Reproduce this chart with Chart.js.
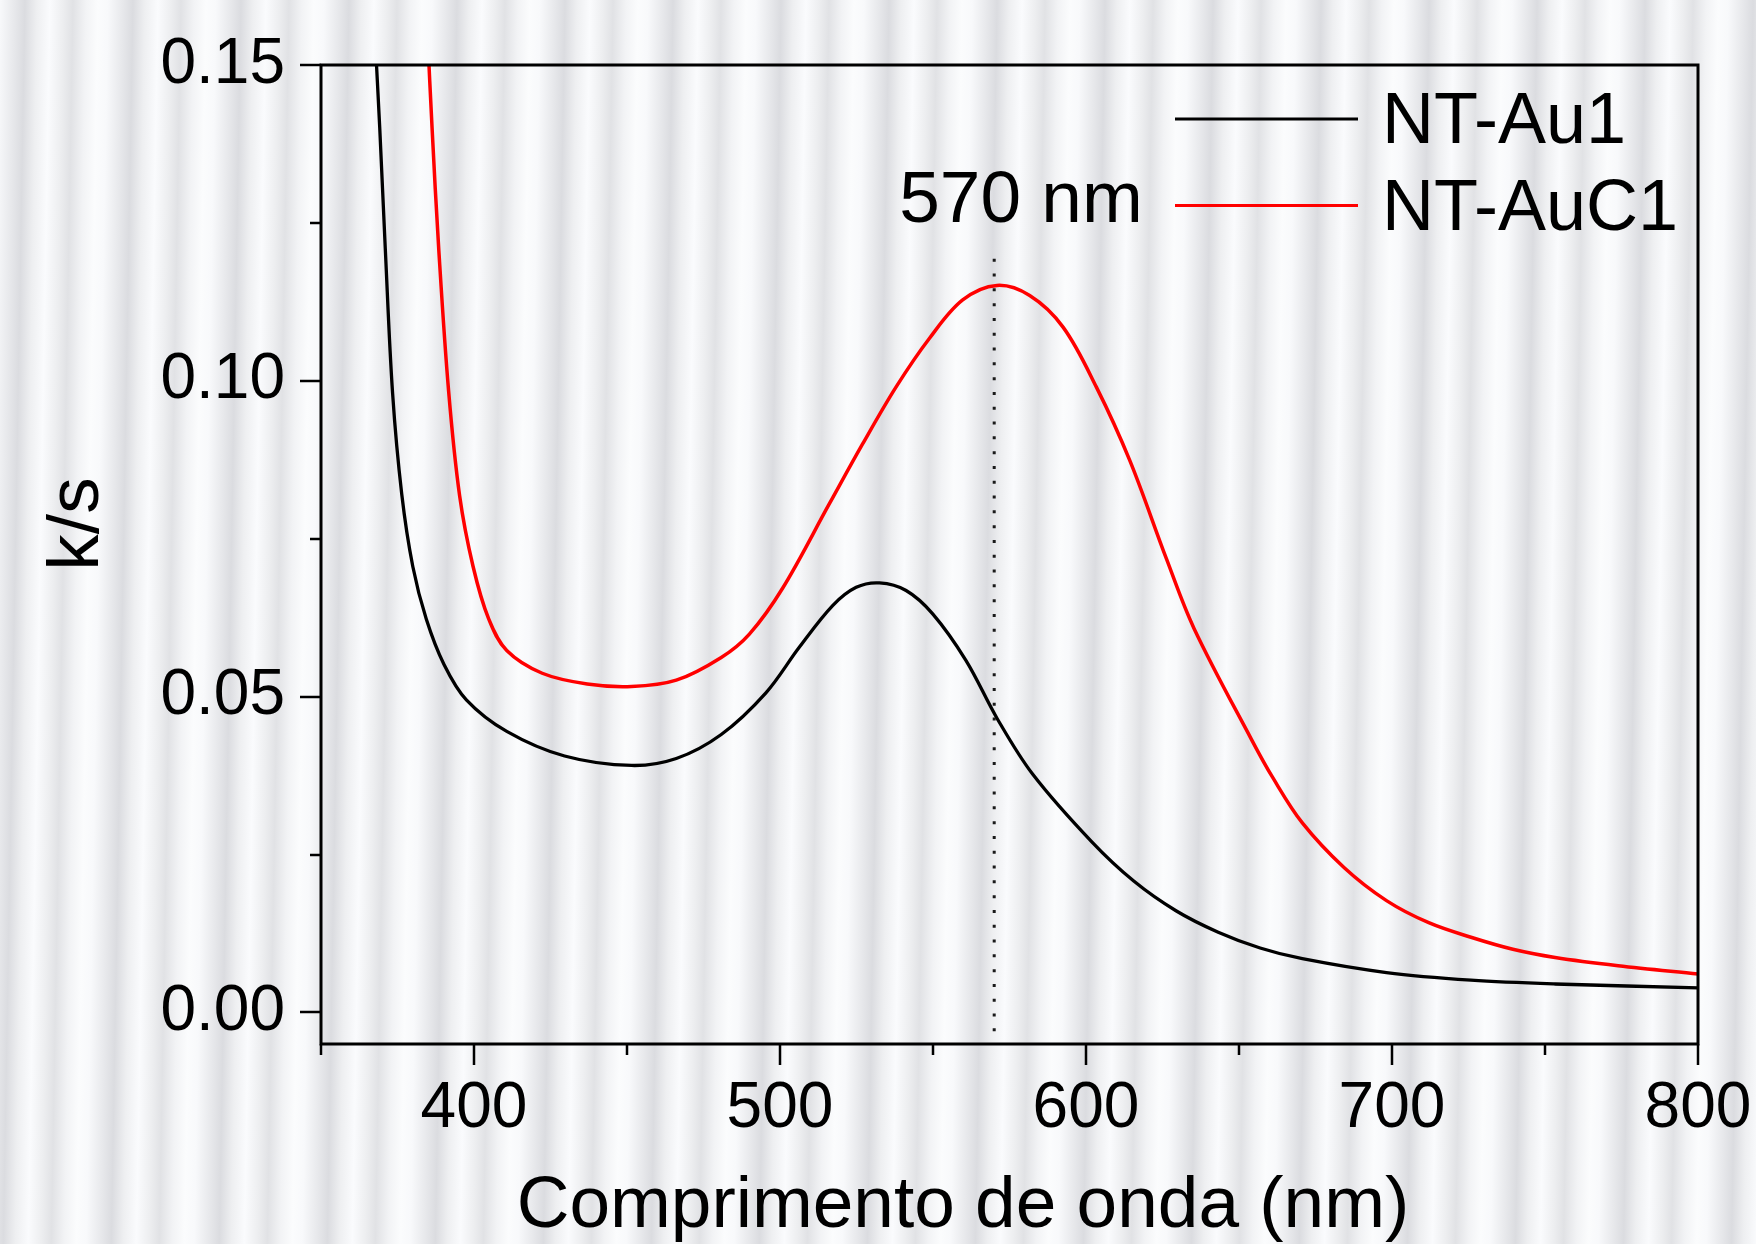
<!DOCTYPE html>
<html lang="pt">
<head>
<meta charset="utf-8">
<title>k/s x comprimento de onda</title>
<script src="https://cdn.jsdelivr.net/npm/chart.js@4.4.1/dist/chart.umd.min.js"></script>
<style>
    html, body { margin: 0; padding: 0; }
    body {
        width: 1756px;
        height: 1244px;
        overflow: hidden;
        background: repeating-linear-gradient(91deg,
            #f8f9fb 0px, #e8e9ec 14px, #dbdce0 25px, #eeeff1 37px,
            #fafbfd 50px, #edeef0 63px, #e1e2e5 73px, #f2f3f5 86px,
            #fbfcfd 98px, #f8f9fb 108px);
    }
    .wrap { position: relative; width: 1756px; height: 1244px; }
</style>
</head>
<body>
<div class="wrap"><canvas id="chart-ks"></canvas></div>
<script>
// NT-Au1 (preto)
const au1Wavelength = [367.6, 369.2, 371.0, 373.4, 376.4, 380.0, 384.4, 390.2, 397.5, 410.7,
    429.6, 451.5, 466.1, 480.8, 495.4, 506.3, 517.2, 524.9, 532.5, 541.2,
    549.9, 560.8, 571.0, 582.6, 601.9, 615.6, 629.4, 643.2, 656.9, 670.7,
    698.2, 725.8, 753.3, 800.0];
const au1Values = [0.155, 0.140, 0.121, 0.098, 0.082, 0.0706, 0.0623, 0.0551, 0.0495, 0.0445,
    0.0406, 0.0391, 0.0402, 0.0440, 0.0506, 0.0578, 0.0644, 0.0673, 0.0680, 0.0668,
    0.0631, 0.0557, 0.0465, 0.0377, 0.0270, 0.0208, 0.0161, 0.0127, 0.0102, 0.0085,
    0.0063, 0.0051, 0.0045, 0.0039];

// NT-AuC1 (vermelho)
const auc1Wavelength = [384.8, 386.3, 388.5, 391.7, 395.3, 399.7, 404.8, 410.7, 422.3, 437.0,
    451.5, 466.1, 480.8, 490.0, 500.9, 516.1, 527.0, 537.9, 548.8, 559.7,
    570.9, 581.6, 592.5, 603.4, 614.3, 626.3, 635.3, 654.1, 661.0, 670.7,
    684.4, 698.2, 712.0, 725.8, 739.5, 753.3, 773.9, 800.0];
const auc1Values = [0.155, 0.140, 0.1207, 0.0984, 0.0818, 0.0706, 0.0623, 0.0573, 0.0537, 0.0520,
    0.0516, 0.0526, 0.0562, 0.0599, 0.0672, 0.0805, 0.0900, 0.0990, 0.1067, 0.1128,
    0.1151, 0.1135, 0.1085, 0.0990, 0.0874, 0.0718, 0.0608, 0.0432, 0.0372, 0.0300,
    0.0229, 0.0177, 0.0142, 0.0119, 0.0100, 0.0087, 0.0074, 0.0061];

const seriesLabels = ['NT-Au1', 'NT-AuC1'];
const peakWavelength = 570;
const peakRange = [-0.003, 0.1207];
const peakLabel = '570 nm';

const xTicks = [400, 500, 600, 700, 800];
const yTicks = [0.00, 0.05, 0.10, 0.15];
const xRange = [350, 800];
const yRange = [-0.005, 0.15];

const FONT = '"Liberation Sans", Arial, Helvetica, sans-serif';

const toPoints = (xs, ys) => xs.map((x, i) => ({ x, y: ys[i] }));

// moldura + ticks maiores/menores para fora
const frameTicks = {
    id: 'frameTicks',
    afterDatasetsDraw(chart) {
        const { ctx, chartArea: a, scales: { x, y } } = chart;
        ctx.save();
        ctx.strokeStyle = '#000';
        ctx.lineWidth = 3;
        ctx.strokeRect(a.left, a.top, a.right - a.left, a.bottom - a.top);
        ctx.lineWidth = 2.5;
        ctx.beginPath();
        for (let v = xRange[0]; v <= xRange[1]; v += 50) {
            const px = Math.round(x.getPixelForValue(v));
            const len = v % 100 === 0 ? 21 : 11;
            ctx.moveTo(px, a.bottom);
            ctx.lineTo(px, a.bottom + len);
        }
        for (let i = 0; i <= 6; i++) {
            const py = Math.round(y.getPixelForValue(i * 0.025));
            const len = i % 2 === 0 ? 21 : 11;
            ctx.moveTo(a.left, py);
            ctx.lineTo(a.left - len, py);
        }
        ctx.stroke();
        ctx.restore();
    }
};

// títulos dos eixos, legenda e rótulo do pico
const labelsPlugin = {
    id: 'labelsPlugin',
    afterDraw(chart) {
        const { ctx, scales: { x } } = chart;
        ctx.save();
        ctx.fillStyle = '#000';
        ctx.textBaseline = 'alphabetic';

        ctx.font = '73px ' + FONT;
        ctx.textAlign = 'center';
        ctx.fillText('Comprimento de onda (nm)', 963, 1227);

        ctx.save();
        ctx.translate(98, 524);
        ctx.rotate(-Math.PI / 2);
        ctx.fillText('k/s', 0, 0);
        ctx.restore();

        // legenda
        ctx.font = '72px ' + FONT;
        ctx.textAlign = 'left';
        chart.data.datasets.filter(d => d.label).forEach((d, i) => {
            const ly = 119 + i * 86.5;
            ctx.strokeStyle = d.borderColor;
            ctx.lineWidth = 3.2;
            ctx.beginPath();
            ctx.moveTo(1175, ly);
            ctx.lineTo(1358, ly);
            ctx.stroke();
            ctx.fillText(d.label, 1382, ly + 24);
        });

        // 570 nm
        ctx.font = '73px ' + FONT;
        ctx.fillText(peakLabel, x.getPixelForValue(peakWavelength) - 95, 222);
        ctx.restore();
    }
};

const noScalePad = s => {
    s.paddingTop = 0; s.paddingBottom = 0; s.paddingLeft = 0; s.paddingRight = 0;
};

new Chart(document.getElementById('chart-ks'), {
    type: 'line',
    data: {
        datasets: [
            {
                label: seriesLabels[0],
                data: toPoints(au1Wavelength, au1Values),
                borderColor: '#000000',
                borderWidth: 3.3,
                pointRadius: 0,
                tension: 0.35
            },
            {
                label: seriesLabels[1],
                data: toPoints(auc1Wavelength, auc1Values),
                borderColor: '#ff0000',
                borderWidth: 3.5,
                pointRadius: 0,
                tension: 0.35
            },
            {
                label: '',
                data: [{ x: peakWavelength, y: peakRange[0] }, { x: peakWavelength, y: peakRange[1] }],
                borderColor: '#1a1a1a',
                borderWidth: 3,
                borderDash: [3, 11.8],
                pointRadius: 0
            }
        ]
    },
    options: {
        responsive: true,
        maintainAspectRatio: false,
        animation: false,
        layout: { padding: { top: 65, right: 58, bottom: 0, left: 0 } },
        plugins: {
            legend: { display: false },
            tooltip: { enabled: false }
        },
        scales: {
            x: {
                type: 'linear',
                min: xRange[0],
                max: xRange[1],
                afterBuildTicks: s => { s.ticks = xTicks.map(v => ({ value: v })); },
                afterFit: s => { s.height = 200; noScalePad(s); },
                grid: { display: false, drawTicks: false },
                border: { display: false },
                ticks: {
                    color: '#000',
                    padding: 27,
                    maxRotation: 0,
                    autoSkip: false,
                    font: { family: FONT, size: 64 }
                }
            },
            y: {
                min: yRange[0],
                max: yRange[1],
                afterBuildTicks: s => { s.ticks = yTicks.map(v => ({ value: v })); },
                afterFit: s => { s.width = 321; noScalePad(s); },
                grid: { display: false, drawTicks: false },
                border: { display: false },
                ticks: {
                    color: '#000',
                    padding: 36,
                    autoSkip: false,
                    font: { family: FONT, size: 64 },
                    callback: v => v.toFixed(2)
                }
            }
        }
    },
    plugins: [frameTicks, labelsPlugin]
});
</script>
</body>
</html>
